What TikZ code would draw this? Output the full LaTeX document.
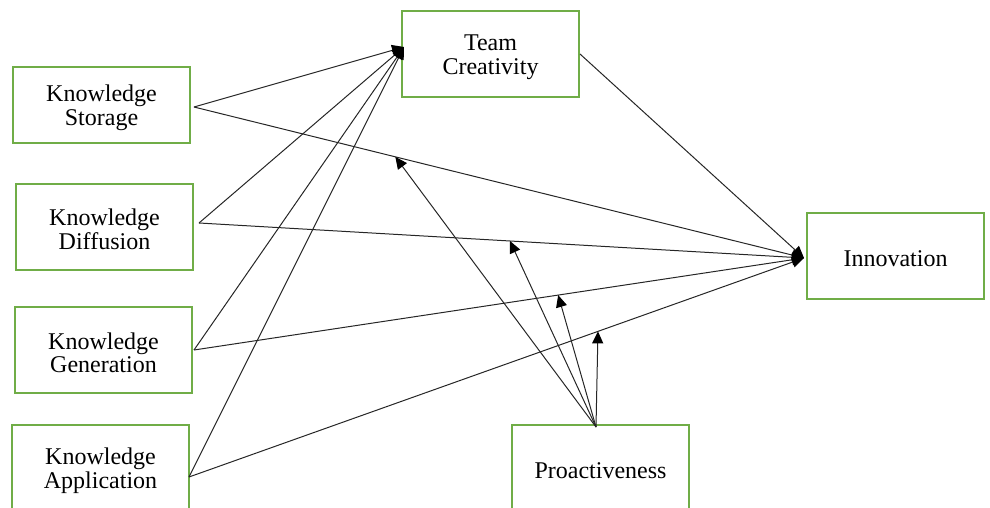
\documentclass[tikz,border=0pt]{standalone}
\usepackage{fontspec}
\setmainfont{Liberation Serif}
\usetikzlibrary{arrows.meta}
\definecolor{boxgreen}{HTML}{70AD47}
\begin{document}
\begin{tikzpicture}[x=1pt,y=-1pt,
  box/.style={draw=boxgreen,line width=2pt,minimum width=177pt,minimum height=86pt,align=center,inner sep=0pt,
    text height=46pt,font=\fontsize{24}{23.5}\selectfont},
  onebox/.style={box,text height=22pt},
  link/.style={draw=black!85,line width=1pt,-{Triangle[length=12pt,width=11pt,fill=black,color=black]}}]
\useasboundingbox (0,0) rectangle (990,508);
\node[box,minimum height=76pt] (ks) at (101.5,105) {Knowledge\\Storage};
\node[box] (kd) at (104.5,226.5) {Knowledge\\Diffusion};
\node[box] (kg) at (103.5,350) {Knowledge\\Generation};
\node[box] (ka) at (100.5,468) {Knowledge\\Application};
\node[box] (tc) at (490.5,54) {Team\\Creativity};
\node[onebox] (inn) at (895.5,255.5) {Innovation};
\node[onebox] (pro) at (600.5,468) {Proactiveness};
\coordinate (tcin) at ([xshift=3pt,yshift=7pt]tc.west);
\coordinate (innin) at ([xshift=-2pt,yshift=-2.5pt]inn.west);
\coordinate (ksout) at ([xshift=3pt,yshift=-2pt]ks.east);
\coordinate (kdout) at ([xshift=5pt,yshift=3.5pt]kd.east);
\coordinate (kgout) at ([xshift=1pt]kg.east);
\coordinate (kaout) at ([xshift=-1pt,yshift=-9pt]ka.east);
\coordinate (proout) at ([xshift=-4.5pt,yshift=-3pt]pro.north);
% paths to team creativity
\draw[link] (ksout) -- (tcin);
\draw[link] (kdout) -- (tcin);
\draw[link] (kgout) -- (tcin);
\draw[link] (kaout) -- (tcin);
% paths to innovation
\draw[link] (ksout) -- coordinate[pos=0.33] (m1) (innin);
\draw[link] (kdout) -- coordinate[pos=0.514] (m2) (innin);
\draw[link] (kgout) -- coordinate[pos=0.597] (m3) (innin);
\draw[link] (kaout) -- coordinate[pos=0.665] (m4) (innin);
\draw[link] (tc.east) -- (innin);
% moderation
\draw[link] (proout) -- (m1);
\draw[link] (proout) -- (m2);
\draw[link] (proout) -- (m3);
\draw[link] (proout) -- (m4);
\end{tikzpicture}
\end{document}
